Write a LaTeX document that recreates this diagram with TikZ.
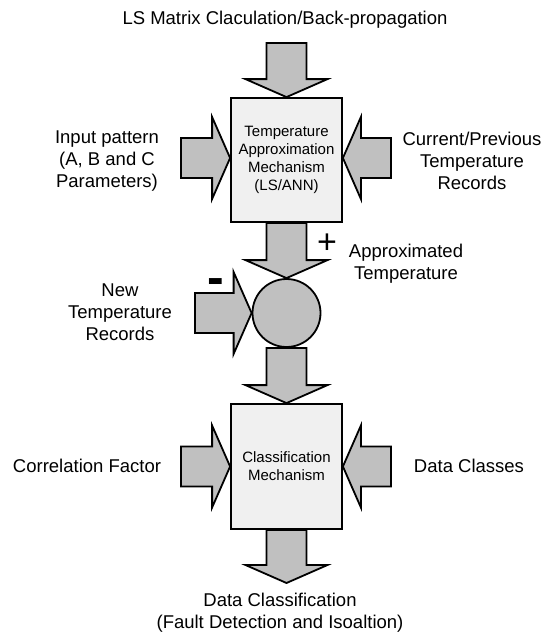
\documentclass[tikz,border=0pt]{standalone}
\usepackage{fontspec}
\setmainfont{Liberation Sans}
\definecolor{ArrowGray}{RGB}{192, 192, 192}
\definecolor{BoxGray}{RGB}{240, 240, 240}
\usetikzlibrary{calc}

\tikzset{
	fatarrow/.style={draw=black, fill=ArrowGray, line width=1.8pt,
		to path={let \p1=(\tikztostart), \p2=(\tikztotarget),
			\n1={atan2(\y2-\y1,\x2-\x1)}, \n2={veclen(\x2-\x1,\y2-\y1)} in
			($(\p1)+({\n1+90}:20pt)$)
			-- ($(\p1)+(\n1:{\n2-18pt})+({\n1+90}:20pt)$)
			-- ($(\p1)+(\n1:{\n2-18pt})+({\n1+90}:41pt)$)
			-- (\p2)
			-- ($(\p1)+(\n1:{\n2-18pt})+({\n1-90}:41pt)$)
			-- ($(\p1)+(\n1:{\n2-18pt})+({\n1-90}:20pt)$)
			-- ($(\p1)+({\n1-90}:20pt)$) -- cycle}},
	mechbox/.style={draw, fill=BoxGray, line width=1.8pt, minimum width=111pt,
		minimum height=124pt, align=center, font=\fontsize{15}{18}\selectfont},
	lbl/.style={align=center, font=\fontsize{18.5}{22}\selectfont}
}

\begin{document}
\begin{tikzpicture}[x=1pt, y=1pt]
	\useasboundingbox (0,0) rectangle (546,-634);
	\node[mechbox] (tmech) at (286.5,-160) {Temperature\\Approximation\\Mechanism\\(LS/ANN)};
	\node[circle, draw, fill=ArrowGray, line width=1.8pt, minimum size=68pt, inner sep=0pt] (sum) at (286.5,-313) {};
	\node[mechbox, minimum height=125pt] (cmech) at (286.5,-466.5) {Classification\\Mechanism};
	\node[lbl] (lstext) at (285,-20) {LS Matrix Claculation/Back-propagation};
	\node[lbl] (inptext) at (107,-161) {Input pattern\\(A, B and C\\Parameters)};
	\node[lbl] (curtext) at (472,-161) {Current/Previous\\Temperature\\Records};
	\node[lbl] (apptext) at (406,-264) {Approximated\\Temperature};
	\node[lbl] (newtext) at (120,-312) {New\\Temperature\\Records};
	\node[lbl] (cortext) at (87,-466) {Correlation Factor};
	\node[lbl] (clstext) at (469,-466) {Data Classes};
	\node[lbl] (outtext) at (280,-613) {Data Classification\\(Fault Detection and Isoaltion)};
	\node (plus) at (327,-244) {\fontsize{34}{34}\selectfont +};
	\node (minus) at (216,-287) {\fontsize{50}{50}\selectfont\bfseries -};
	\coordinate (lsend) at (286.5,-43);
	\coordinate (inpend) at (181,-158);
	\coordinate (curend) at (391,-158);
	\coordinate (newend) at (195,-313);
	\coordinate (corend) at (181,-466.5);
	\coordinate (clsend) at (391,-466.5);
	\coordinate (outtip) at (286.5,-583);
	\draw[fatarrow] (lsend) to (tmech.north);
	\draw[fatarrow] (inpend) to ([yshift=2pt]tmech.west);
	\draw[fatarrow] (curend) to ([yshift=2pt]tmech.east);
	\draw[fatarrow] (tmech.south) to (sum.north);
	\draw[fatarrow] (newend) to (sum.west);
	\draw[fatarrow] (sum.south) to (cmech.north);
	\draw[fatarrow] (corend) to (cmech.west);
	\draw[fatarrow] (clsend) to (cmech.east);
	\draw[fatarrow] (cmech.south) to (outtip);
\end{tikzpicture}
\end{document}
